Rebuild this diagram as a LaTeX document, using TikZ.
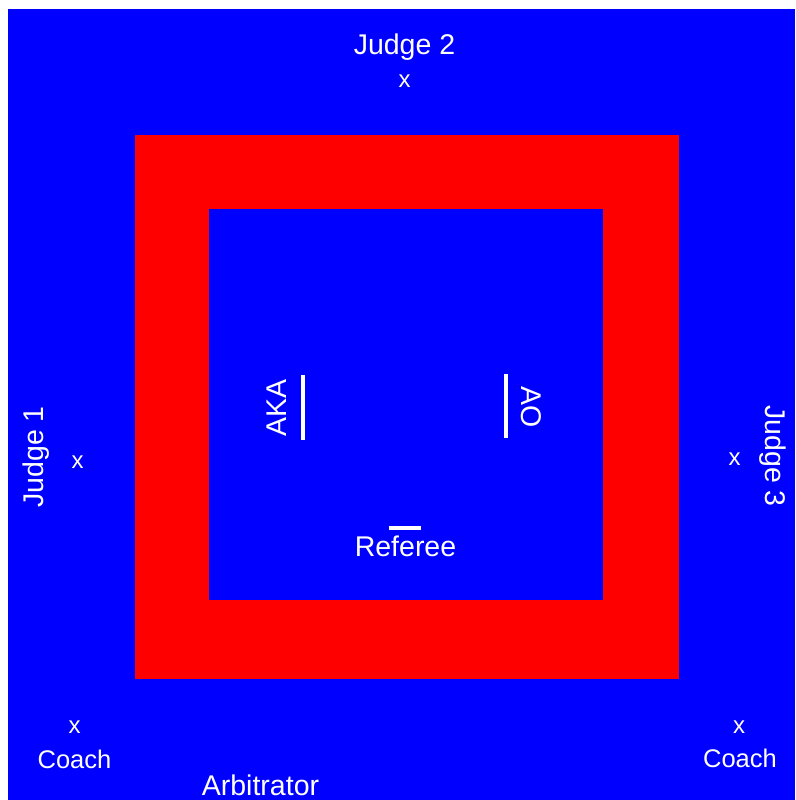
\documentclass[tikz,border=0pt]{standalone}
\usepackage{fontspec}
\setmainfont{Liberation Sans}
\definecolor{matblue}{HTML}{0000FF}
\definecolor{matred}{HTML}{FF0000}
\begin{document}
\begin{tikzpicture}[x=1pt,y=-1pt,
  lbl/.style={text=white,inner sep=0pt,font=\fontsize{28.5}{31}\selectfont},
  coachlbl/.style={text=white,inner sep=0pt,font=\fontsize{25.5}{28}\selectfont},
  mk/.style={text=white,inner sep=0pt,font=\fontsize{24}{26}\selectfont},
  bar/.style={draw=white,line width=4pt}]
\useasboundingbox (0,0) rectangle (795,800);
\fill[matblue] (8,9) rectangle (795,800);
\fill[matred] (134.5,134.5) rectangle (678.5,678.5);
\fill[matblue] (209.3,209.3) rectangle (602.7,599.5);
% Judge 2
\node[lbl,anchor=base] (j2) at (404.5,55) {Judge 2};
\node[mk] (j2x) at (404.5,81) {x};
% Judge 1
\node[lbl,anchor=base,rotate=90] (j1) at (43,457) {Judge 1};
\node[mk] (j1x) at (77.5,462) {x};
% Judge 3
\node[lbl,anchor=base,rotate=-90] (j3) at (765,456) {Judge 3};
\node[mk] (j3x) at (734.5,459.5) {x};
% AKA / AO
\node[lbl,anchor=base,rotate=90] (aka) at (286.5,408) {AKA};
\draw[bar] (302.7,375) -- (302.7,440);
\node[lbl,anchor=base,rotate=-90] (ao) at (521,407) {AO};
\draw[bar] (506,374) -- (506,438);
% Referee
\draw[bar] (388.5,527.7) -- (420.5,527.7);
\node[lbl,anchor=base] (ref) at (405.5,556.7) {Referee};
% Coaches
\node[mk] (c1x) at (74.5,727) {x};
\node[coachlbl,anchor=base] (c1) at (74.5,768.5) {Coach};
\node[mk] (c2x) at (739,727) {x};
\node[coachlbl,anchor=base] (c2) at (740,767.5) {Coach};
% Arbitrator
\node[lbl,anchor=base] (arb) at (260.5,795) {Arbitrator};
\end{tikzpicture}
\end{document}
